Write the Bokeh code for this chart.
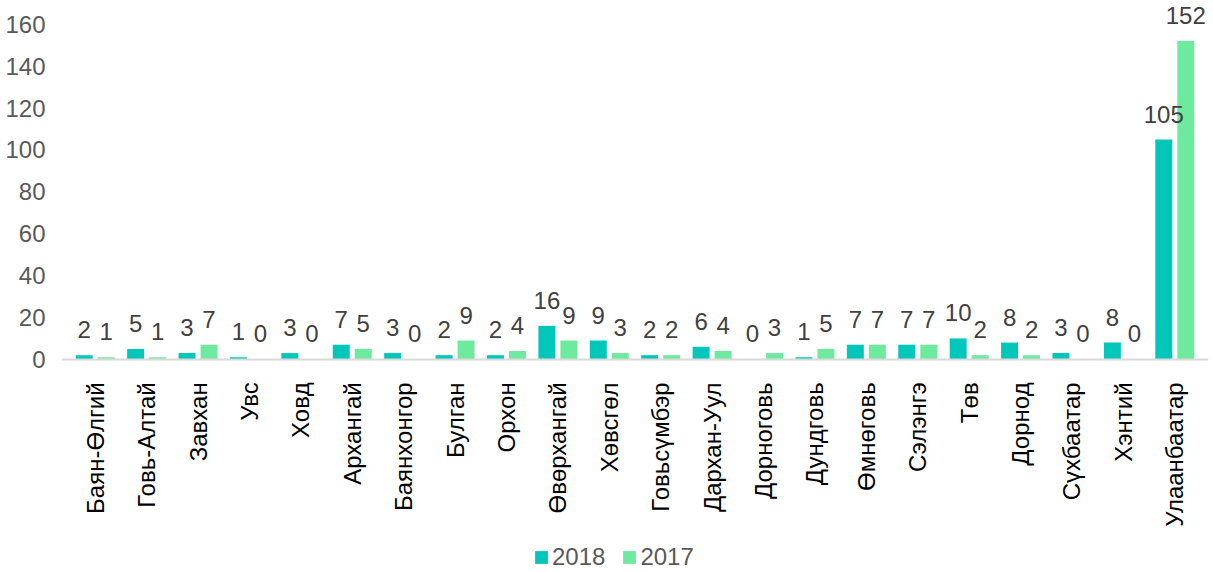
import math
from bokeh.plotting import figure
from bokeh.models import (ColumnDataSource, FactorRange, Range1d, LabelSet, Legend,
                          LegendItem, FixedTicker)
from bokeh.transform import dodge
from bokeh.core.properties import value
from bokeh.embed import file_html
from bokeh.resources import INLINE

categories = ["Баян-Өлгий", "Говь-Алтай", "Завхан", "Увс", "Ховд", "Архангай",
              "Баянхонгор", "Булган", "Орхон", "Өвөрхангай", "Хөвсгөл", "Говьсүмбэр",
              "Дархан-Уул", "Дорноговь", "Дундговь", "Өмнөговь", "Сэлэнгэ", "Төв",
              "Дорнод", "Сүхбаатар", "Хэнтий", "Улаанбаатар"]
values_2018 = [2, 5, 3, 1, 3, 7, 3, 2, 2, 16, 9, 2, 6, 0, 1, 7, 7, 10, 8, 3, 8, 105]
values_2017 = [1, 1, 7, 0, 0, 5, 0, 9, 4, 9, 3, 2, 4, 3, 5, 7, 7, 2, 2, 0, 0, 152]
y_ticks = [0, 20, 40, 60, 80, 100, 120, 140, 160]
series_names = ["2018", "2017"]

C2018 = "#00C7B9"
C2017 = "#6EEA9F"
FONT = "Liberation Sans"
FS = "24px"

src = ColumnDataSource(dict(
    cat=categories,
    v18=values_2018,
    v17=values_2017,
    t18=[str(v) for v in values_2018],
    t17=[str(v) for v in values_2017],
))

# The frame covers the whole canvas height; the category axis is pinned at y=0,
# so the value labels and the legend below the axis all lie inside the frame.
p = figure(
    x_range=FactorRange(factors=categories, range_padding=0.01415),
    y_range=Range1d(-101.8, 171.4),
    frame_width=1147, frame_height=572,
    min_border_left=61, min_border_right=5, min_border_top=0, min_border_bottom=0,
    output_backend="svg", toolbar_location=None,
    background_fill_color="white", border_fill_color="white",
)
p.outline_line_color = None
p.xgrid.visible = False
p.ygrid.visible = False

off = 0.214
bw = 0.33
r18 = p.vbar(x=dodge("cat", -off, range=p.x_range), top="v18", width=bw, source=src,
             fill_color=C2018, line_color=None)
r17 = p.vbar(x=dodge("cat", off, range=p.x_range), top="v17", width=bw, source=src,
             fill_color=C2017, line_color=None)

for col, tcol, dx in (("v18", "t18", -off), ("v17", "t17", off)):
    ls = LabelSet(x=dodge("cat", dx, range=p.x_range), y=col, text=tcol, source=src,
                  y_offset=17, text_align="center", text_baseline="alphabetic",
                  text_font=value(FONT), text_font_size=FS, text_color="#404040")
    p.add_layout(ls)

# y axis
yax = p.yaxis[0]
yax.ticker = FixedTicker(ticks=y_ticks)
yax.axis_line_color = None
yax.major_tick_line_color = None
yax.minor_tick_line_color = None
yax.major_label_text_font = FONT
yax.major_label_text_font_size = FS
yax.major_label_text_color = "#595959"
yax.major_label_standoff = 10

# x axis, pinned at value 0
xax = p.xaxis[0]
xax.fixed_location = 0
xax.axis_line_color = "#D9D9D9"
xax.axis_line_width = 2
xax.major_tick_line_color = None
xax.minor_tick_line_color = None
xax.major_label_orientation = math.pi / 2
xax.major_label_text_font = FONT
xax.major_label_text_font_size = FS
xax.major_label_text_color = "#000000"
xax.major_label_standoff = 17

legend = Legend(items=[LegendItem(label=series_names[0], renderers=[r18]),
                       LegendItem(label=series_names[1], renderers=[r17])],
                orientation="horizontal", location=(472, 1),
                glyph_width=16, glyph_height=16, label_standoff=3, spacing=16,
                padding=0, margin=0, border_line_color=None,
                background_fill_alpha=0,
                label_text_font=FONT, label_text_font_size=FS,
                label_text_color="#595959")
p.add_layout(legend, "center")

open("out.html", "w").write(file_html(p, INLINE))
